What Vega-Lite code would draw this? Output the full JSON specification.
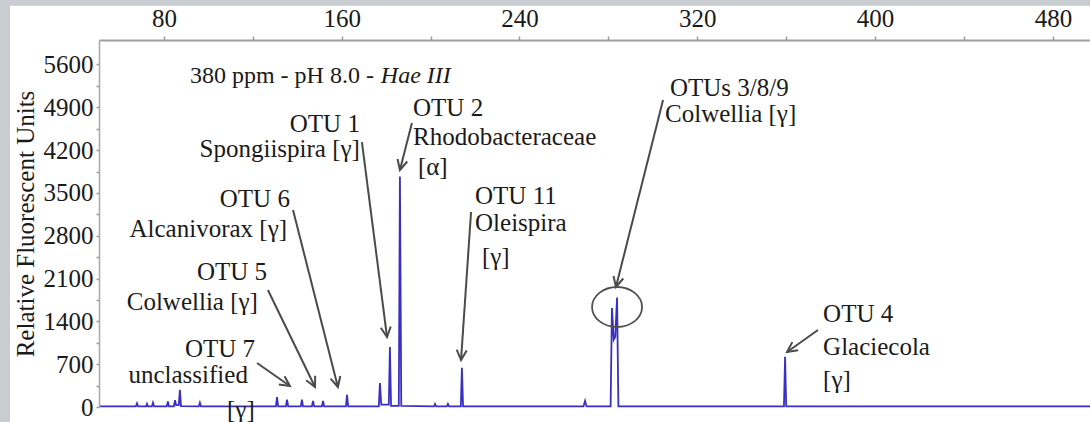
{
  "$schema": "https://vega.github.io/schema/vega-lite/v6.json",
  "width": 991,
  "height": 367,
  "autosize": "none",
  "padding": {"left": 99, "top": 40, "right": 0, "bottom": 15},
  "background": "#c9cdd1",
  "config": {"view": {"stroke": null}, "font": "Liberation Serif"},
  "datasets": {
    "frame": [{"x": 10.76, "x2": 520, "y": 6560, "y2": -400}],
    "trace": [
      {"x": 50.8, "y": 10}, {"x": 60, "y": 10}, {"x": 67.4, "y": 10}, {"x": 67.9, "y": 60}, {"x": 68.4, "y": 10},
      {"x": 72.0, "y": 10}, {"x": 72.4, "y": 50}, {"x": 72.8, "y": 10}, {"x": 74.6, "y": 10}, {"x": 75.1, "y": 70},
      {"x": 75.6, "y": 10}, {"x": 81.3, "y": 10}, {"x": 81.8, "y": 90}, {"x": 82.3, "y": 10}, {"x": 84.5, "y": 10},
      {"x": 85.0, "y": 110}, {"x": 85.5, "y": 30}, {"x": 86.7, "y": 30}, {"x": 87.2, "y": 280}, {"x": 87.7, "y": 15},
      {"x": 95.7, "y": 10}, {"x": 96.2, "y": 70}, {"x": 96.7, "y": 10}, {"x": 130.4, "y": 10}, {"x": 130.9, "y": 160},
      {"x": 131.4, "y": 10}, {"x": 134.9, "y": 10}, {"x": 135.4, "y": 120}, {"x": 135.9, "y": 10}, {"x": 141.6, "y": 10},
      {"x": 142.1, "y": 120}, {"x": 142.6, "y": 10}, {"x": 146.6, "y": 10}, {"x": 147.1, "y": 100}, {"x": 147.6, "y": 10},
      {"x": 151.1, "y": 10}, {"x": 151.6, "y": 100}, {"x": 152.1, "y": 10}, {"x": 161.9, "y": 10}, {"x": 162.4, "y": 200},
      {"x": 162.9, "y": 10}, {"x": 176.7, "y": 10}, {"x": 177.2, "y": 390}, {"x": 177.8, "y": 40}, {"x": 181.2, "y": 40},
      {"x": 181.7, "y": 980}, {"x": 182.2, "y": 20}, {"x": 185.7, "y": 20}, {"x": 186.2, "y": 3770}, {"x": 186.8, "y": 20},
      {"x": 201.5, "y": 10}, {"x": 202.0, "y": 50}, {"x": 202.5, "y": 10}, {"x": 207.3, "y": 10}, {"x": 207.8, "y": 50},
      {"x": 208.3, "y": 10}, {"x": 213.6, "y": 10}, {"x": 214.1, "y": 640}, {"x": 214.6, "y": 10}, {"x": 268.8, "y": 10},
      {"x": 269.5, "y": 100}, {"x": 270.2, "y": 10}, {"x": 281.0, "y": 10}, {"x": 281.6, "y": 1620}, {"x": 282.4, "y": 1100},
      {"x": 283.1, "y": 1150}, {"x": 283.9, "y": 1790}, {"x": 284.5, "y": 10}, {"x": 359.0, "y": 10}, {"x": 359.5, "y": 820},
      {"x": 360.0, "y": 10}, {"x": 497, "y": 10}
    ],
    "arrows": [
      {"x": 169.1, "y": 4332, "x2": 180.4, "y2": 1144, "angle": -7.3},
      {"x": 191.6, "y": 4643, "x2": 186.2, "y2": 3875, "angle": 14.3},
      {"x": 218.2, "y": 3188, "x2": 213.7, "y2": 768, "angle": 3.9},
      {"x": 138.1, "y": 3221, "x2": 158.3, "y2": 327, "angle": -14.3},
      {"x": 126.8, "y": 1913, "x2": 148.0, "y2": 327, "angle": -25.8},
      {"x": 121.9, "y": 719, "x2": 136.7, "y2": 343, "angle": -55.1},
      {"x": 304.6, "y": 5019, "x2": 283.4, "y2": 1962, "angle": 14.1},
      {"x": 374.3, "y": 1259, "x2": 360.4, "y2": 899, "angle": 54.6}
    ],
    "circle": [{"x": 283.9, "y": 1635}],
    "labels": [
      {"x": 174.5, "y": 5297, "label": "380 ppm - pH 8.0 -", "side": "title"},
      {"x": 177.6, "y": 5297, "label": "Hae III", "side": "italic"},
      {"x": 168.2, "y": 4496, "label": "OTU 1", "side": "right"},
      {"x": 168.2, "y": 4087, "label": "Spongiispira [γ]", "side": "right"},
      {"x": 136.7, "y": 3270, "label": "OTU 6", "side": "right"},
      {"x": 135.4, "y": 2779, "label": "Alcanivorax [γ]", "side": "right"},
      {"x": 126.4, "y": 2076, "label": "OTU 5", "side": "right"},
      {"x": 122.3, "y": 1586, "label": "Colwellia [γ]", "side": "right"},
      {"x": 121.0, "y": 817, "label": "OTU 7", "side": "right"},
      {"x": 117.8, "y": 392, "label": "unclassified", "side": "right"},
      {"x": 108.4, "y": -180, "label": "[γ]", "side": "left"},
      {"x": 192.1, "y": 4758, "label": "OTU 2", "side": "left"},
      {"x": 192.1, "y": 4283, "label": "Rhodobacteraceae", "side": "left"},
      {"x": 194.3, "y": 3793, "label": "[α]", "side": "left"},
      {"x": 220.0, "y": 3320, "label": "OTU 11", "side": "left"},
      {"x": 220.0, "y": 2880, "label": "Oleispira", "side": "left"},
      {"x": 223.1, "y": 2322, "label": "[γ]", "side": "left"},
      {"x": 307.7, "y": 5085, "label": "OTUs 3/8/9", "side": "left"},
      {"x": 305.5, "y": 4659, "label": "Colwellia [γ]", "side": "left"},
      {"x": 376.6, "y": 1390, "label": "OTU 4", "side": "left"},
      {"x": 376.6, "y": 850, "label": "Glaciecola", "side": "left"},
      {"x": 376.6, "y": 311, "label": "[γ]", "side": "left"}
    ]
  },
  "encoding": {
    "x": {
      "field": "x", "type": "quantitative",
      "scale": {"domain": [50.8, 496.7], "nice": false, "zero": false},
      "axis": {
        "orient": "top", "title": null, "zindex": 1, "grid": false,
        "values": [80, 120, 160, 200, 240, 280, 320, 360, 400, 440, 480],
        "format": "d",
        "labelExpr": "datum.value % 80 === 0 ? datum.label : ''",
        "labelFont": "Liberation Serif", "labelFontSize": 25, "labelColor": "#1a1a1a",
        "labelPadding": 5, "tickSize": 4, "tickColor": "#9a9a9a", "tickWidth": 1.5,
        "domainColor": "#a0a0a0", "domainWidth": 2
      }
    },
    "y": {
      "field": "y", "type": "quantitative",
      "scale": {"domain": [0, 6000], "nice": false},
      "axis": {
        "title": "Relative Fluorescent Units", "zindex": 1, "grid": false,
        "values": [0, 350, 700, 1050, 1400, 1750, 2100, 2450, 2800, 3150, 3500, 3850, 4200, 4550, 4900, 5250, 5600],
        "format": "d",
        "labelExpr": "datum.value % 700 === 0 ? datum.label : ''",
        "labelFont": "Liberation Serif", "labelFontSize": 25, "labelColor": "#1a1a1a",
        "labelPadding": 3, "tickSize": 3, "tickColor": "#9a9a9a", "tickWidth": 1.5,
        "domainColor": "#a8a8a8", "domainWidth": 1.5,
        "titleFont": "Liberation Serif", "titleFontSize": 25, "titleFontWeight": "normal",
        "titleColor": "#1a1a1a", "titlePadding": 5
      }
    }
  },
  "layer": [
    {
      "data": {"name": "frame"},
      "mark": {"type": "rect", "fill": "#ffffff", "clip": false},
      "encoding": {
        "x2": {"field": "x2"},
        "y2": {"field": "y2"}
      }
    },
    {
      "data": {"name": "trace"},
      "mark": {"type": "line", "color": "#3a2fc4", "strokeWidth": 1.8}
    },
    {
      "data": {"name": "arrows"},
      "mark": {"type": "rule", "color": "#4a4a4a", "strokeWidth": 2},
      "encoding": {
        "x2": {"field": "x2"},
        "y2": {"field": "y2"}
      }
    },
    {
      "data": {"name": "arrows"},
      "mark": {"type": "point", "shape": "M -0.5 -1 L 0 0 L 0.5 -1", "filled": false, "stroke": "#4a4a4a", "strokeWidth": 2, "size": 400, "opacity": 1},
      "encoding": {
        "x": {"field": "x2", "type": "quantitative"},
        "y": {"field": "y2", "type": "quantitative"},
        "angle": {"field": "angle", "type": "quantitative", "scale": null}
      }
    },
    {
      "data": {"name": "circle"},
      "mark": {"type": "point", "shape": "M -1 0 A 1 0.8 0 1 1 1 0 A 1 0.8 0 1 1 -1 0 Z", "filled": false, "stroke": "#505050", "strokeWidth": 1.8, "size": 2500, "opacity": 1}
    },
    {
      "data": {"name": "labels"},
      "transform": [{"filter": "datum.side === 'right'"}],
      "mark": {"type": "text", "align": "right", "baseline": "alphabetic", "font": "Liberation Serif", "fontSize": 25, "color": "#1a1a1a"},
      "encoding": {"text": {"field": "label"}}
    },
    {
      "data": {"name": "labels"},
      "transform": [{"filter": "datum.side === 'title'"}],
      "mark": {"type": "text", "align": "right", "baseline": "alphabetic", "font": "Liberation Serif", "fontSize": 24, "color": "#1a1a1a"},
      "encoding": {"text": {"field": "label"}}
    },
    {
      "data": {"name": "labels"},
      "transform": [{"filter": "datum.side === 'left'"}],
      "mark": {"type": "text", "align": "left", "baseline": "alphabetic", "font": "Liberation Serif", "fontSize": 25, "color": "#1a1a1a"},
      "encoding": {"text": {"field": "label"}}
    },
    {
      "data": {"name": "labels"},
      "transform": [{"filter": "datum.side === 'italic'"}],
      "mark": {"type": "text", "align": "left", "baseline": "alphabetic", "font": "Liberation Serif", "fontSize": 24, "fontStyle": "italic", "color": "#1a1a1a"},
      "encoding": {"text": {"field": "label"}}
    }
  ]
}
